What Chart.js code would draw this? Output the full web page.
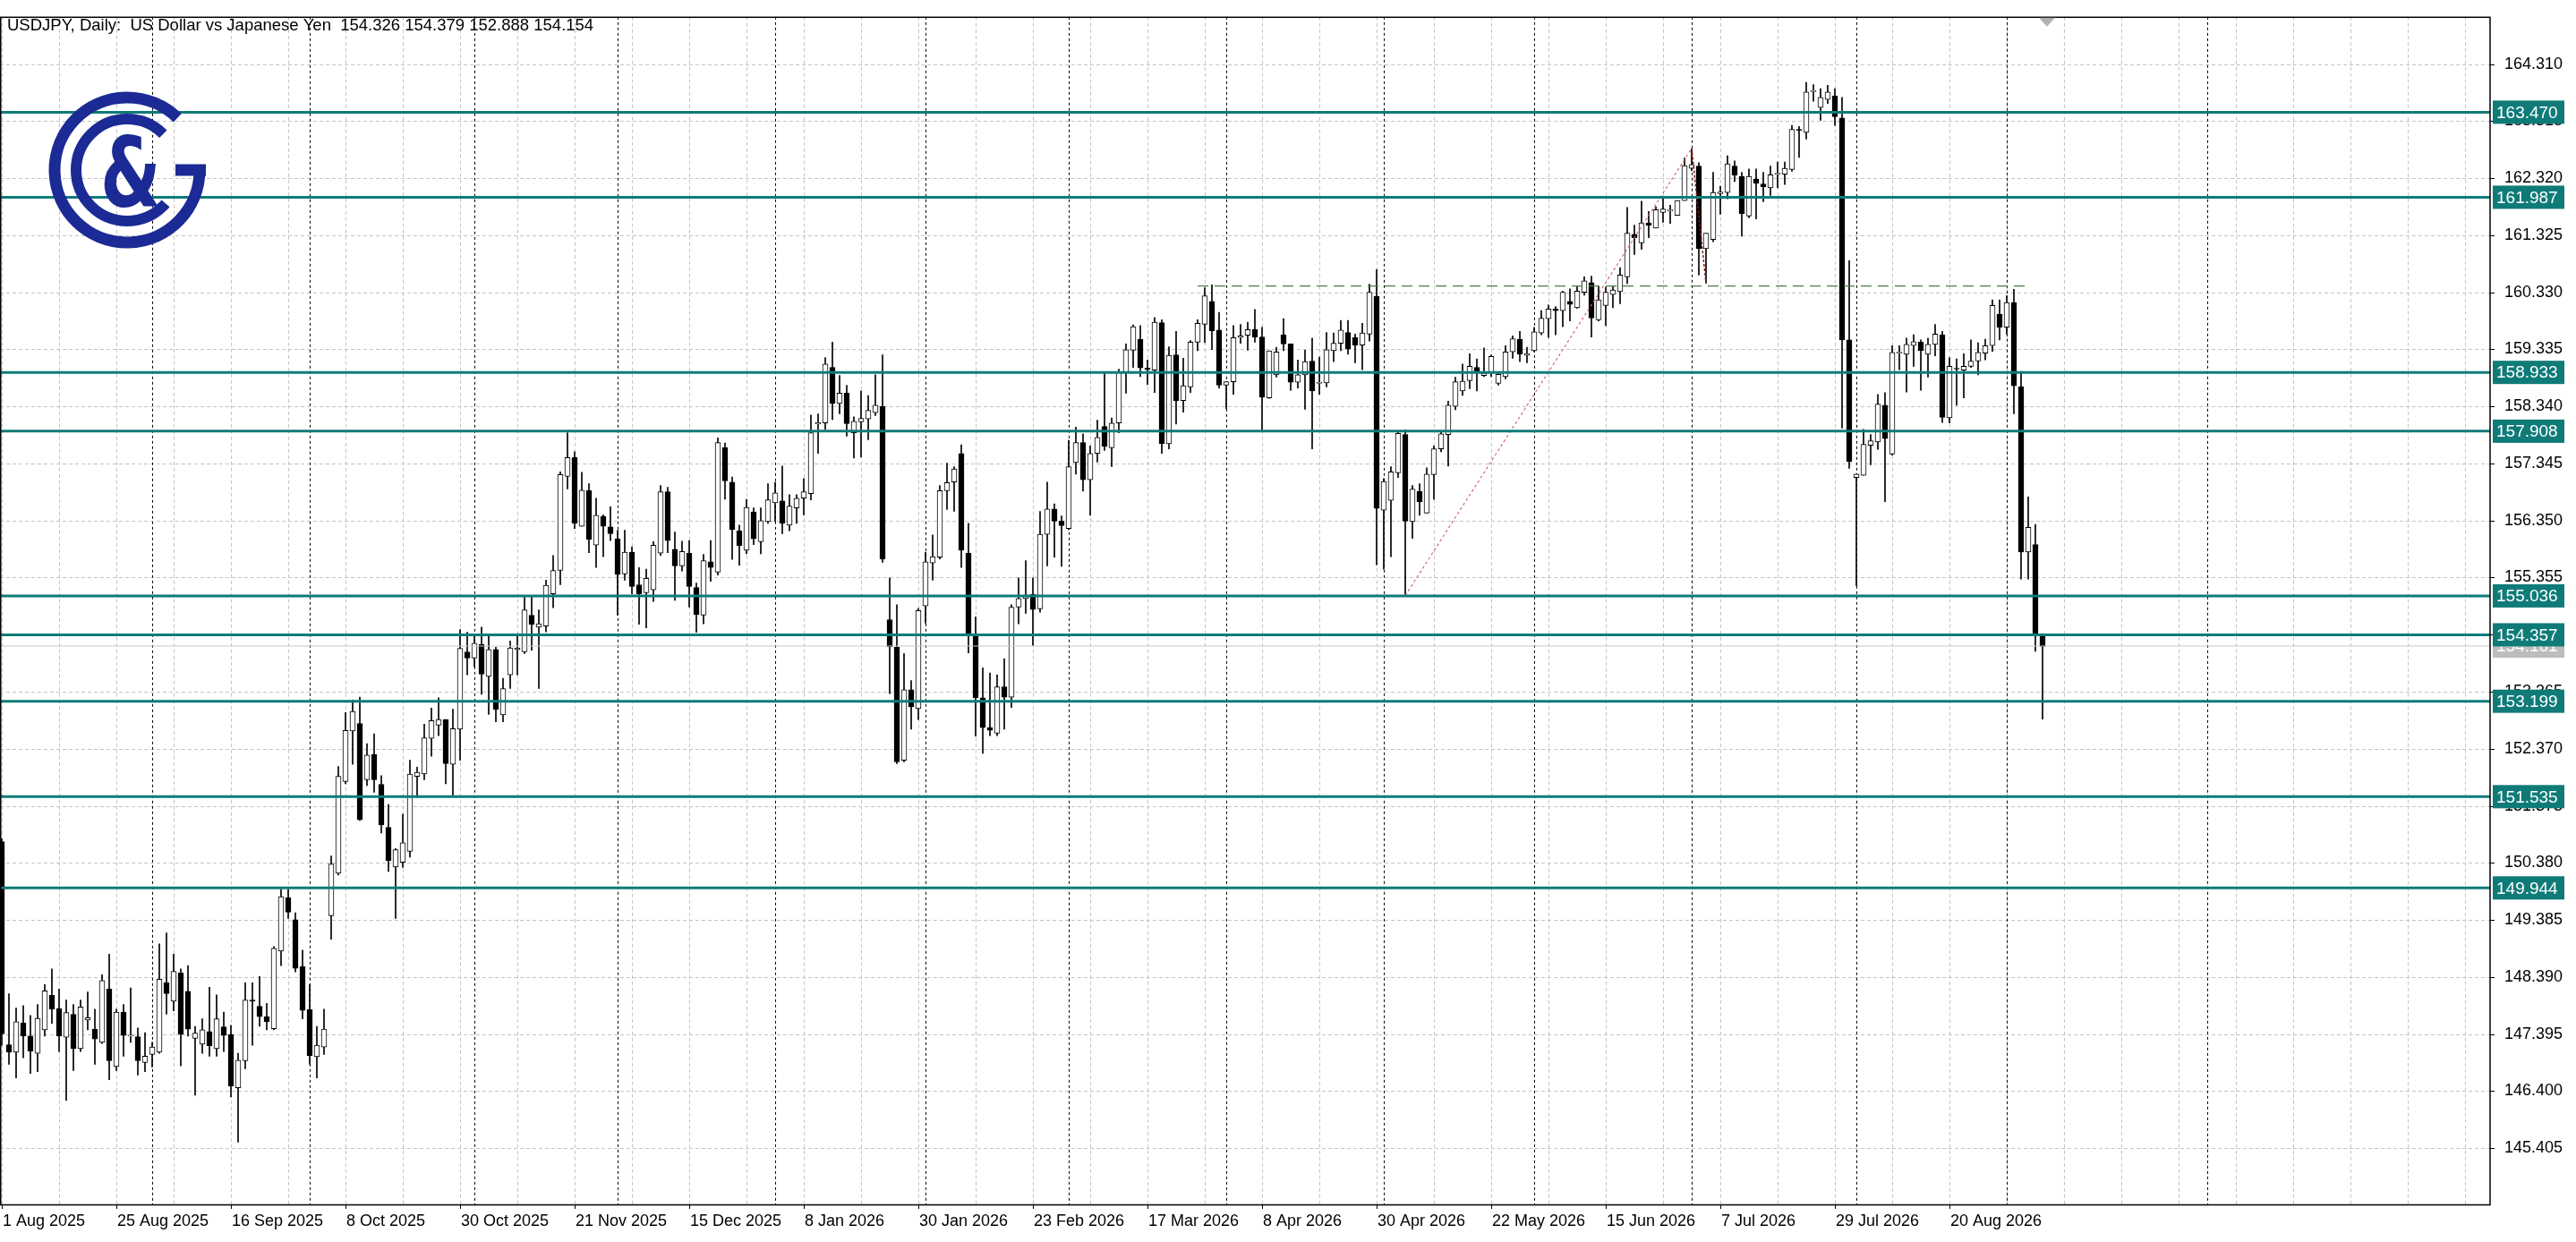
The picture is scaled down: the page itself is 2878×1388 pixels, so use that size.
<!DOCTYPE html>
<html>
<head>
<meta charset="utf-8">
<script src="https://cdn.jsdelivr.net/npm/chart.js@4.4.1/dist/chart.umd.min.js"></script>
<style>
  html, body { margin: 0; padding: 0; background: #fff; }
  #wrap { width: 2878px; height: 1388px; }
</style>
</head>
<body>
<div id="wrap"><canvas id="main-chart" width="2878" height="1388"></canvas></div>
<script>
// USDJPY daily candles
var opens = [150.75,147.21,147.08,147.59,147.36,147.06,147.47,148.07,147.84,147.34,147.74,147.14,147.64,147.48,147.25,148.18,146.83,147.78,147.36,147.35,146.90,147.04,147.08,148.29,147.97,148.46,148.14,147.32,147.22,147.44,147.14,147.52,147.39,146.46,146.93,147.99,147.88,147.70,147.49,148.84,149.77,149.39,148.57,147.82,147.00,147.17,149.46,150.20,151.80,152.68,152.81,151.83,152.27,151.75,151.00,150.31,150.39,150.58,151.89,151.93,152.55,152.78,152.88,152.10,152.71,154.06,153.95,154.19,153.63,154.10,152.96,153.66,154.10,154.06,154.70,154.49,154.51,155.07,155.48,157.12,157.45,156.25,156.87,155.92,156.42,156.24,156.03,155.42,155.80,155.23,155.09,155.14,155.78,156.85,155.85,155.56,155.78,155.18,154.70,155.63,155.45,157.62,157.02,156.17,155.83,156.50,155.98,156.33,156.66,156.69,156.27,156.57,156.74,156.82,158.03,158.05,159.02,158.39,158.57,157.88,158.07,158.12,158.23,158.34,154.62,154.14,152.17,153.40,153.07,154.86,155.61,155.71,156.87,157.02,157.52,155.78,154.34,153.26,152.74,152.64,153.45,153.27,154.84,154.99,155.06,154.81,156.11,156.55,156.34,156.21,157.36,157.71,157.06,157.52,157.99,157.62,158.05,158.93,159.32,159.51,159.01,158.97,159.80,157.69,159.24,158.44,158.68,159.46,159.77,160.17,159.67,158.71,158.77,159.54,159.58,159.68,159.55,158.49,158.89,159.59,159.43,158.76,158.89,159.13,158.74,158.75,159.31,159.44,159.63,159.54,159.41,159.60,160.26,156.53,156.70,157.18,157.85,156.33,156.86,156.48,157.15,157.60,157.85,158.34,158.61,158.79,159.02,158.88,158.92,158.74,158.86,159.29,159.51,159.23,159.31,159.62,159.87,160.04,160.01,160.17,160.06,160.33,160.50,159.85,160.10,160.29,160.34,160.60,161.34,161.19,161.54,161.45,161.72,161.75,161.67,161.93,162.49,162.53,161.09,161.25,162.05,162.07,162.53,162.35,161.66,162.30,162.22,162.15,162.39,162.39,162.47,163.17,163.12,163.83,163.55,163.69,163.75,163.37,159.50,157.10,157.14,157.66,157.72,158.36,157.51,159.27,159.25,159.40,159.46,159.25,159.42,159.59,158.14,159.00,158.97,159.04,159.13,159.27,159.40,159.95,159.72,160.15,158.68,155.80,155.93,154.326];
var highs = [150.80,148.10,147.85,147.89,147.72,147.91,148.26,148.53,148.18,147.99,147.91,147.99,148.13,147.83,148.43,148.79,147.83,147.91,148.20,147.50,147.42,147.25,148.97,149.16,148.79,148.53,148.59,147.53,147.66,148.21,148.08,147.78,147.55,147.06,148.29,148.29,148.40,147.93,148.92,149.92,149.92,149.51,148.86,148.26,147.53,147.83,150.50,152.06,153.00,153.22,153.27,152.46,152.63,151.90,151.40,150.63,151.23,152.17,152.05,152.80,153.08,153.26,152.88,153.06,154.45,154.40,154.34,154.49,154.34,154.14,153.60,154.25,154.38,155.01,155.04,154.79,155.31,155.74,157.20,157.88,157.55,157.19,156.99,156.74,156.45,156.59,156.18,156.18,155.89,155.53,155.50,155.98,156.96,156.93,156.15,155.99,156.00,155.26,155.76,156.00,157.79,157.70,157.11,156.27,156.72,156.57,156.57,156.99,157.02,157.30,156.80,156.80,157.08,158.19,158.21,159.19,159.46,158.88,158.71,158.16,158.61,158.53,158.89,159.24,155.35,154.88,154.03,153.56,154.82,155.80,156.10,156.96,157.35,157.29,157.67,156.30,154.67,153.78,153.69,153.66,153.94,154.88,155.35,155.65,155.35,156.51,157.02,156.64,156.43,157.75,157.98,157.86,157.65,158.10,158.91,158.14,158.99,159.43,159.76,159.75,159.15,159.89,159.85,159.38,159.65,159.18,159.49,159.85,160.41,160.46,159.98,158.77,159.75,159.77,159.81,160.03,159.72,159.31,159.37,159.87,159.43,159.15,159.32,159.53,159.20,159.63,159.62,159.84,159.84,159.60,159.79,160.47,160.73,157.08,157.29,157.91,157.93,156.96,156.99,157.27,157.65,157.90,158.43,158.85,159.08,159.26,159.17,159.36,159.24,158.92,159.40,159.57,159.65,159.37,159.72,160.01,160.11,160.08,160.35,160.39,160.43,160.60,160.61,160.43,160.42,160.43,160.76,161.81,161.50,161.92,161.74,161.82,161.96,161.85,161.93,162.67,162.83,162.59,161.36,162.42,162.18,162.71,162.62,162.42,162.48,162.48,162.42,162.53,162.60,162.60,163.24,163.22,163.99,163.95,163.88,163.94,163.88,163.73,160.88,157.16,157.94,157.85,158.55,158.58,159.40,159.40,159.53,159.59,159.50,159.53,159.77,159.65,159.19,159.17,159.26,159.50,159.45,159.51,160.20,160.20,160.27,160.38,158.95,156.76,156.28,154.379];
var lows = [147.20,146.87,146.63,146.98,146.71,146.74,147.36,147.58,147.09,146.24,146.76,147.09,147.47,146.87,147.23,146.60,146.76,147.01,147.25,146.68,146.74,146.82,147.06,147.74,147.80,146.84,147.36,146.33,147.06,147.01,147.01,147.09,146.30,145.51,146.79,147.20,147.53,147.47,147.47,148.59,149.41,148.48,147.66,146.87,146.63,147.04,149.05,150.17,151.76,152.10,151.12,151.73,151.61,150.90,150.23,149.41,150.30,150.48,151.52,151.83,152.24,152.60,151.76,151.56,152.17,153.66,153.80,153.32,152.97,152.84,152.84,153.42,153.66,154.03,154.09,153.42,154.41,154.83,155.23,156.90,156.21,156.25,155.79,155.53,155.72,156.00,154.70,155.31,155.07,154.54,154.48,154.94,155.74,155.79,154.96,155.47,154.84,154.40,154.55,155.29,155.40,156.72,155.67,155.57,155.77,155.93,155.77,156.30,156.33,156.12,156.17,156.30,156.45,156.71,157.52,157.94,158.11,158.21,157.82,157.44,157.46,157.76,158.18,155.62,153.33,152.11,152.14,152.71,152.88,154.56,155.31,155.68,156.54,156.51,155.53,154.04,152.59,152.29,152.60,152.60,152.71,153.09,154.55,154.73,154.17,154.75,155.56,155.71,155.55,156.19,157.16,156.86,156.44,157.37,157.57,157.29,157.88,158.57,159.02,158.86,158.72,158.58,157.52,157.60,158.03,158.24,158.58,159.31,159.45,159.33,158.66,158.30,158.55,159.44,159.32,159.46,157.92,158.48,158.85,159.31,158.62,158.66,158.29,157.60,158.55,158.68,159.12,159.31,159.25,159.10,158.98,159.48,155.58,155.50,155.72,157.10,155.04,156.04,156.44,156.48,156.72,157.55,157.30,158.28,158.53,158.65,158.61,158.86,158.86,158.71,158.82,159.18,159.12,159.10,159.29,159.59,159.54,159.59,159.73,159.83,160.05,160.28,159.55,159.83,159.75,160.06,160.13,160.48,160.99,161.08,161.28,161.45,161.55,161.53,161.67,161.93,162.45,160.63,160.49,161.21,161.69,161.96,162.26,161.31,161.63,161.61,161.91,162.02,162.15,162.21,162.44,162.68,163.00,163.66,163.33,163.62,163.24,157.96,157.26,155.21,157.14,157.32,157.59,156.68,157.49,158.98,158.59,159.04,158.62,158.85,159.22,158.06,158.05,158.36,158.49,159.02,158.89,159.15,159.30,159.50,159.60,158.21,155.33,155.33,154.07,152.888];
var closes = [147.40,147.08,147.61,147.36,147.10,147.67,148.15,147.83,147.36,147.77,147.14,147.87,147.68,147.31,148.33,146.93,147.78,147.37,147.36,146.93,147.01,147.17,148.35,148.10,148.49,147.39,147.48,147.41,147.47,147.19,147.66,147.37,146.49,146.94,147.99,147.97,147.70,147.61,148.89,149.79,149.52,148.54,147.81,147.02,147.20,147.48,150.36,151.89,152.69,153.02,151.13,152.26,151.83,151.04,150.42,150.61,150.73,151.93,151.96,152.56,152.86,152.88,152.11,152.72,154.12,153.95,154.21,153.67,154.10,153.06,153.42,154.13,154.13,154.79,154.54,154.55,155.22,155.48,157.15,157.45,156.30,156.88,156.02,156.44,156.25,156.12,155.41,155.80,155.20,155.07,155.34,155.92,156.85,156.00,155.56,155.81,155.20,154.71,155.65,155.53,157.71,157.04,156.19,155.91,156.58,156.03,156.35,156.71,156.83,156.30,156.60,156.74,156.85,157.88,158.06,159.08,158.39,158.57,158.04,158.08,158.13,158.27,158.36,155.68,154.15,152.14,153.40,153.10,154.78,155.63,155.72,156.87,157.01,157.25,155.83,154.37,153.26,152.74,152.69,153.45,153.27,154.84,154.99,155.05,154.80,156.11,156.55,156.34,156.26,157.29,157.71,157.06,157.52,157.80,157.64,158.05,158.93,159.33,159.73,159.01,158.98,159.81,157.69,159.23,158.44,158.70,159.46,159.79,160.27,159.66,158.71,158.77,159.54,159.57,159.68,159.55,158.50,159.31,159.29,159.43,158.76,158.89,159.12,158.61,158.76,159.33,159.44,159.67,159.34,159.41,159.62,160.33,156.56,157.03,157.20,157.87,156.34,156.90,156.68,157.16,157.60,157.86,158.36,158.77,158.78,159.04,158.92,158.92,159.21,158.90,159.29,159.52,159.25,159.26,159.64,159.88,160.04,160.01,160.33,160.12,160.35,160.53,159.88,160.20,160.33,160.37,160.63,161.36,161.28,161.54,161.50,161.77,161.78,161.75,161.93,162.54,162.56,161.09,161.36,162.07,162.08,162.57,162.37,161.70,162.35,162.23,162.17,162.38,162.40,162.49,163.17,163.15,163.82,163.84,163.73,163.82,163.39,159.50,157.38,157.16,157.68,157.74,158.38,157.78,159.28,159.28,159.42,159.47,159.31,159.42,159.60,158.15,159.04,158.99,159.04,159.13,159.28,159.40,160.10,159.72,160.15,158.70,155.80,156.23,154.37,154.154];

var priceTicks = [145.405,146.400,147.395,148.390,149.385,150.380,151.375,152.370,153.365,154.360,155.355,156.350,157.345,158.340,159.335,160.330,161.325,162.320,163.315,164.310];
var levelLines = [163.470,161.987,158.933,157.908,155.036,154.357,153.199,151.535,149.944];
var lastPrice = 154.161;
var dateLabels = ["1 Aug 2025","25 Aug 2025","16 Sep 2025","8 Oct 2025","30 Oct 2025","21 Nov 2025","15 Dec 2025","8 Jan 2026","30 Jan 2026","23 Feb 2026","17 Mar 2026","8 Apr 2026","30 Apr 2026","22 May 2026","15 Jun 2026","7 Jul 2026","29 Jul 2026","20 Aug 2026"];
var monthStarts = [21,43,66,86,108,129,149,171,193,214,236,259,280,308];
var resistance = [{x:167,y:160.44},{x:283,y:160.44}];
var trendUp = [{x:196,y:155.04},{x:236,y:162.84}];
var trendDown = [{x:236,y:162.84},{x:238,y:160.49}];

var TEAL = "#0f7b78";
var FONT = "18px 'Liberation Sans', Arial, sans-serif";

var wickData = [], bodyData = [], bodyColors = [];
for (var i = 0; i < closes.length; i++) {
  wickData.push({ x: i, y: [lows[i], highs[i]] });
  bodyData.push({ x: i, y: [opens[i], closes[i]] });
  bodyColors.push(closes[i] >= opens[i] ? "#ffffff" : "#000000");
}

var xMin = -0.25, xMax = 347.5;
var levelSets = levelLines.map(function (p) {
  return {
    type: "line", data: [{ x: xMin, y: p }, { x: xMax, y: p }],
    borderColor: TEAL, borderWidth: 3, pointRadius: 0, order: 0,
  };
});

// grid, frame, labels, logo
var mt4Plugin = {
  id: "mt4",
  beforeDatasetsDraw: function (chart) {
    var c = chart.ctx, a = chart.chartArea;
    var xs = chart.scales.x, ys = chart.scales.y;
    c.save();
    c.lineWidth = 1;
    c.strokeStyle = "#c4c4c4";
    c.setLineDash([4, 3]);
    for (var k = 0; k <= 344; k += 8) {
      var px = Math.round(xs.getPixelForValue(k)) + 0.5;
      c.beginPath(); c.moveTo(px, a.top); c.lineTo(px, a.bottom); c.stroke();
    }
    priceTicks.forEach(function (p) {
      var py = Math.round(ys.getPixelForValue(p)) + 0.5;
      c.beginPath(); c.moveTo(a.left, py); c.lineTo(a.right, py); c.stroke();
    });
    c.strokeStyle = "#000";
    c.setLineDash([3, 3]);
    monthStarts.forEach(function (k) {
      var px = Math.round(xs.getPixelForValue(k)) + 0.5;
      c.beginPath(); c.moveTo(px, a.top); c.lineTo(px, a.bottom); c.stroke();
    });
    c.restore();
  },
  afterDraw: function (chart) {
    var c = chart.ctx, a = chart.chartArea;
    var xs = chart.scales.x, ys = chart.scales.y;
    c.save();
    // frame
    c.strokeStyle = "#000"; c.lineWidth = 1.5; c.setLineDash([]);
    c.strokeRect(0.75, a.top + 0.5, a.right - 0.75, a.bottom - a.top);
    c.lineWidth = 1;
    // y ticks
    priceTicks.forEach(function (p) {
      var py = Math.round(ys.getPixelForValue(p)) + 0.5;
      c.beginPath(); c.moveTo(a.right, py); c.lineTo(a.right + 5, py); c.stroke();
    });
    // x labels
    c.font = FONT; c.fillStyle = "#000"; c.textAlign = "left"; c.textBaseline = "alphabetic";
    dateLabels.forEach(function (t, j) {
      var px = Math.round(xs.getPixelForValue(j * 16));
      c.beginPath(); c.moveTo(px + 0.5, a.bottom); c.lineTo(px + 0.5, a.bottom + 5); c.stroke();
      c.fillText(t, px + 1, a.bottom + 24);
    });
    // price boxes
    c.font = "19px 'Liberation Sans', Arial, sans-serif";
    function box(p, col) {
      var py = ys.getPixelForValue(p);
      c.fillStyle = col;
      c.fillRect(a.right + 3, py - 13, 80, 26);
      c.fillStyle = "#fff";
      c.textBaseline = "middle";
      c.fillText(p.toFixed(3), a.right + 7, py + 1);
    }
    box(lastPrice, "#bdbdbd");
    levelLines.forEach(function (p) { box(p, TEAL); });
    // title
    c.fillStyle = "#000"; c.textBaseline = "alphabetic";
    c.font = "18.5px 'Liberation Sans', Arial, sans-serif";
    c.fillText("USDJPY, Daily:  US Dollar vs Japanese Yen  154.326 154.379 152.888 154.154", 8, 34);
    // shift marker
    c.fillStyle = "#b0b0b0";
    c.beginPath(); c.moveTo(2278, a.top + 1); c.lineTo(2296, a.top + 1); c.lineTo(2287, a.top + 11); c.closePath(); c.fill();
    // logo
    var cx = 142, cy = 190, blue = "#1b2a94";
    c.strokeStyle = blue; c.lineCap = "butt";
    c.lineWidth = 13;
    c.beginPath(); c.arc(cx, cy, 81, -46 * Math.PI / 180, 0, true); c.stroke();
    c.fillStyle = blue;
    c.fillRect(196, cy - 6.5, 34, 13);
    c.lineWidth = 12;
    c.beginPath(); c.arc(cx, cy, 57, -45 * Math.PI / 180, 41 * Math.PI / 180, true); c.stroke();
    c.translate(146, cy + 40);
    c.scale(0.72, 1);
    c.font = "bold 108px 'DejaVu Sans', sans-serif";
    c.textAlign = "center";
    c.fillText("&", 0, 0);
    c.restore();
  },
};

var ctx = document.getElementById("main-chart");
var mainChart = new Chart(ctx, {
  type: "bar",
  data: {
    datasets: [
      {
        type: "bar", data: wickData, backgroundColor: "#000", borderWidth: 0,
        barThickness: 1, grouped: false, order: 3,
      },
      {
        type: "bar", data: bodyData, backgroundColor: bodyColors, borderColor: "#000",
        borderWidth: 1, borderSkipped: false, barThickness: 6, minBarLength: 1,
        grouped: false, order: 2,
      },
      {
        type: "line", data: resistance, borderColor: "#4f7a52", borderWidth: 1.2,
        borderDash: [12, 7], pointRadius: 0, order: 1,
      },
      {
        type: "line", data: trendUp, borderColor: "#d26a6a", borderWidth: 1.2,
        borderDash: [3, 3], pointRadius: 0, order: 1,
      },
      {
        type: "line", data: trendDown, borderColor: "#8c1c1c", borderWidth: 1.5,
        borderDash: [3, 2], pointRadius: 0, order: 1,
      },
      {
        type: "line", data: [{ x: xMin, y: lastPrice }, { x: xMax, y: lastPrice }],
        borderColor: "#c8c8c8", borderWidth: 1, pointRadius: 0, order: 1,
      },
    ].concat(levelSets),
  },
  options: {
    responsive: false,
    animation: false,
    events: [],
    layout: { padding: { top: 13, left: 0, right: 0, bottom: 0 } },
    plugins: { legend: { display: false }, tooltip: { enabled: false } },
    scales: {
      x: {
        type: "linear", min: xMin, max: xMax, offset: false,
        grid: { display: false }, border: { display: false },
        ticks: { display: false },
        afterFit: function (s) { s.height = 42; },
      },
      y: {
        position: "right", min: 144.425, max: 165.133,
        grid: { display: false }, border: { display: false },
        afterBuildTicks: function (s) { s.ticks = priceTicks.map(function (v) { return { value: v }; }); },
        ticks: {
          color: "#000", padding: 8, font: { family: "'Liberation Sans', Arial, sans-serif", size: 18 },
          callback: function (v) { return Number(v).toFixed(3); },
        },
        afterFit: function (s) { s.width = 96; },
      },
    },
  },
  plugins: [mt4Plugin],
});
</script>
</body>
</html>
